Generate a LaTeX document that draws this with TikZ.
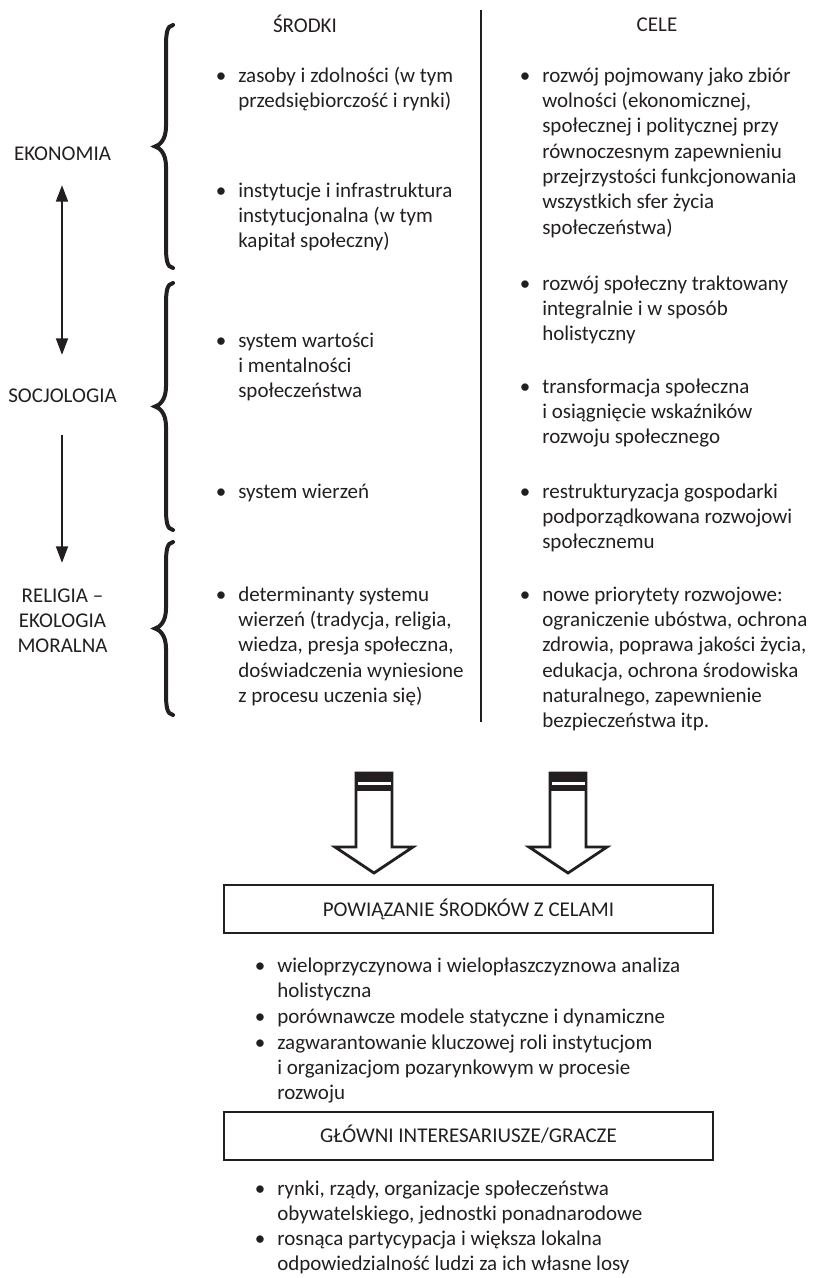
\documentclass[tikz,border=0pt]{standalone}
\usepackage{fontspec}
\setmainfont{Carlito}
\usetikzlibrary{arrows.meta}
\definecolor{ink}{HTML}{231F20}
\newcommand{\tb}[1]{\parbox[t]{330pt}{\raggedright #1}}
\newcommand{\cb}[1]{\parbox[t]{100pt}{\centering #1}}
\newcommand{\brc}[3]{% x-end, top, bottom
  \draw[bracest] (#1,#2) .. controls (#1-6,#2+1) and (#1-7,#2+8) .. (#1-7,#2+22)
   -- (#1-7,{(#2+#3)/2-20}) .. controls (#1-7,{(#2+#3)/2-6}) and (#1-14,{(#2+#3)/2-1}) .. (#1-18,{(#2+#3)/2})
   .. controls (#1-14,{(#2+#3)/2+1}) and (#1-7,{(#2+#3)/2+6}) .. (#1-7,{(#2+#3)/2+20})
   -- (#1-7,#3-22) .. controls (#1-7,#3-8) and (#1-6,#3-1) .. (#1,#3);}
\newcommand{\blkarrow}[1]{%
  \draw[line width=2.1pt, fill=white, line join=miter, draw=ink]
    (#1-18,773) -- (#1+18,773) -- (#1+18,847) -- (#1+39,847) -- (#1,873)
    -- (#1-39,847) -- (#1-18,847) -- cycle;
  \fill[ink] (#1-19,772) rectangle (#1+19,791);
  \fill[white] (#1-16.5,781.5) rectangle (#1+16.5,784.5);}
\begin{document}
\begin{tikzpicture}[x=0.75pt,y=-0.75pt,
  every node/.style={font=\fontsize{15.75}{19}\selectfont, text=ink, inner sep=0pt},
  txt/.style={anchor=base west},
  bul/.style={anchor=base},
  lab/.style={anchor=base},
  bracest/.style={draw=ink, line width=3pt, line cap=round},
  arr/.style={draw=ink, line width=2pt, -{Triangle[width=8.8pt,length=12.5pt]}},
  darr/.style={draw=ink, line width=2pt, {Triangle[width=8.8pt,length=12.5pt]}-{Triangle[width=8.8pt,length=12.5pt]}},
  boxst/.style={draw=ink, line width=1.1pt, minimum width=366.75pt, minimum height=36pt}]
\useasboundingbox (0,0) rectangle (814,1278);

% headers
\node[lab] (hsr) at (305,32) {ŚRODKI};
\node[lab] (hce) at (657,31) {CELE};
\draw[draw=ink, line width=1.5pt] (481,10) -- (481,722);

% left labels
\node[lab] (eko) at (62.5,160) {EKONOMIA};
\node[lab] (soc) at (62.5,402) {SOCJOLOGIA};
\node[lab] (rel) at (62.5,602) {\cb{RELIGIA –\\EKOLOGIA\\MORALNA}};
\coordinate (a1t) at (62,185);
\coordinate (a1b) at (62,355);
\coordinate (a2t) at (62,435);
\coordinate (a2b) at (62,563);
\draw[darr] (a1t) -- (a1b);
\draw[arr] (a2t) -- (a2b);

% braces
\brc{173}{25}{268}
\brc{173}{283}{530}
\brc{173}{542}{715}

% left column
\node[bul] (lb1) at (221,82) {•};
\node[txt] (l1) at (238,82) {\tb{zasoby i zdolności (w tym\\przedsiębiorczość i rynki)}};
\node[bul] (lb2) at (221,197) {•};
\node[txt] (l2) at (238,197) {\tb{instytucje i infrastruktura\\instytucjonalna (w tym\\kapitał społeczny)}};
\node[bul] (lb3) at (221,347) {•};
\node[txt] (l3) at (238,347) {\tb{system wartości\\i mentalności\\społeczeństwa}};
\node[bul] (lb4) at (221,498) {•};
\node[txt] (l4) at (238,498) {\tb{system wierzeń}};
\node[bul] (lb5) at (221,601) {•};
\node[txt] (l5) at (238,601) {\tb{determinanty systemu\\wierzeń (tradycja, religia,\\wiedza, presja społeczna,\\doświadczenia wyniesione\\z procesu uczenia się)}};

% right column
\node[bul] (rb1) at (525,82) {•};
\node[txt] (r1) at (542,82) {\tb{rozwój pojmowany jako zbiór\\wolności (ekonomicznej,\\społecznej i politycznej przy\\równoczesnym zapewnieniu\\przejrzystości funkcjonowania\\wszystkich sfer życia\\społeczeństwa)}};
\node[bul] (rb2) at (525,290) {•};
\node[txt] (r2) at (542,290) {\tb{rozwój społeczny traktowany\\integralnie i w sposób\\holistyczny}};
\node[bul] (rb3) at (525,393) {•};
\node[txt] (r3) at (542,393) {\tb{transformacja społeczna\\i osiągnięcie wskaźników\\rozwoju społecznego}};
\node[bul] (rb4) at (525,498) {•};
\node[txt] (r4) at (542,498) {\tb{restrukturyzacja gospodarki\\podporządkowana rozwojowi\\społecznemu}};
\node[bul] (rb5) at (525,601) {•};
\node[txt] (r5) at (542,601) {\tb{nowe priorytety rozwojowe:\\ograniczenie ubóstwa, ochrona\\zdrowia, poprawa jakości życia,\\edukacja, ochrona środowiska\\naturalnego, zapewnienie\\bezpieczeństwa itp.}};

% block arrows
\blkarrow{374}
\blkarrow{568}

% box 1
\node[boxst] (box1) at (468.5,909) {};
\node[lab] (box1t) at (468.5,916) {POWIĄZANIE ŚRODKÓW Z CELAMI};

\node[bul] (bb1) at (260,972) {•};
\node[txt] (b1) at (277,972) {\tb{wieloprzyczynowa i wielopłaszczyznowa analiza\\holistyczna}};
\node[bul] (bb2) at (260,1023.5) {•};
\node[txt] (b2) at (277,1023.5) {\tb{porównawcze modele statyczne i dynamiczne}};
\node[bul] (bb3) at (260,1049) {•};
\node[txt] (b3) at (277,1049) {\tb{zagwarantowanie kluczowej roli instytucjom\\i organizacjom pozarynkowym w procesie\\rozwoju}};

% box 2
\node[boxst] (box2) at (468.5,1136) {};
\node[lab] (box2t) at (468.5,1142) {GŁÓWNI INTERESARIUSZE/GRACZE};

\node[bul] (gb1) at (260,1195) {•};
\node[txt] (g1) at (277,1195) {\tb{rynki, rządy, organizacje społeczeństwa\\obywatelskiego, jednostki ponadnarodowe}};
\node[bul] (gb2) at (260,1245) {•};
\node[txt] (g2) at (277,1245) {\tb{rosnąca partycypacja i większa lokalna\\odpowiedzialność ludzi za ich własne losy}};
\end{tikzpicture}
\end{document}
